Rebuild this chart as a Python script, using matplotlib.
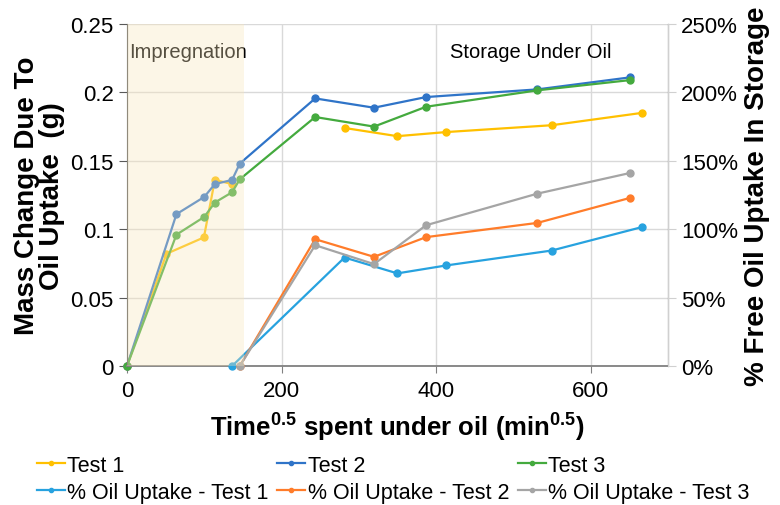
import matplotlib
matplotlib.use('Agg')
import matplotlib.pyplot as plt
import numpy as np
from matplotlib.ticker import FuncFormatter

plt.rcParams['font.family'] = ['Liberation Sans', 'DejaVu Sans']
plt.rcParams['mathtext.fontset'] = 'custom'
plt.rcParams['mathtext.rm'] = 'Liberation Sans'
plt.rcParams['mathtext.bf'] = 'Liberation Sans:bold'

# mass change (g) vs sqrt(time)
x_t1 = [0, 51, 99.5, 113.7, 136, np.nan, 281.5, 349.8, 413, 549.5, 666]
y_t1 = [0, 0.082, 0.094, 0.136, 0.133, np.nan, 0.174, 0.168, 0.171, 0.176, 0.185]
x_t2 = [0, 64, 100, 113.7, 136, 146, 243.5, 319.6, 387, 531, 651]
y_t2 = [0, 0.111, 0.1236, 0.133, 0.136, 0.148, 0.1956, 0.1888, 0.1966, 0.2022, 0.211]
x_t3 = [0, 64, 100, 113.7, 136, 146, 243.5, 319.6, 387, 531, 651]
y_t3 = [0, 0.096, 0.109, 0.1195, 0.127, 0.1365, 0.182, 0.175, 0.1895, 0.2015, 0.209]

# % free oil uptake in storage
x_p1 = [136, 281.5, 349.8, 413, 549.5, 666]
y_p1 = [0, 79.3, 67.7, 73.5, 84.4, 101.5]
x_p2 = [146, 243.5, 319.6, 387, 531, 651]
y_p2 = [0, 92.7, 79.8, 94.2, 104.6, 122.9]
x_p3 = [146, 243.5, 319.6, 387, 531, 651]
y_p3 = [0, 88.3, 74.5, 102.9, 126.0, 141.1]

fig = plt.figure(figsize=(7.8, 5.06), dpi=100)
ax = fig.add_axes([0.1628, 0.2747, 0.6936, 0.6759])
ax2 = ax.twinx()

gridc = '#D9D9D9'
ax.set_xlim(0, 700)
ax.set_ylim(0, 0.25)
ax.set_xticks([0, 200, 400, 600])
ax.set_yticks([0, 0.05, 0.1, 0.15, 0.2, 0.25])
ax.set_yticklabels(['0', '0.05', '0.1', '0.15', '0.2', '0.25'])
ax.grid(True, color=gridc, linewidth=1)
ax.set_axisbelow(True)

ax2.set_ylim(0, 250)
ax2.set_yticks([0, 50, 100, 150, 200, 250])
ax2.yaxis.set_major_formatter(FuncFormatter(lambda v, p: '%d%%' % v))

lw = 1.6
ms = 5
l1, = ax.plot(x_t1, y_t1, '-o', color='#FFC000', lw=lw, ms=ms, label='Test 1')
l2, = ax.plot(x_t2, y_t2, '-o', color='#2F74C8', lw=lw, ms=ms, label='Test 2')
l3, = ax.plot(x_t3, y_t3, '-o', color='#44AA3E', lw=lw, ms=ms, label='Test 3')
l4, = ax2.plot(x_p1, y_p1, '-o', color='#27A2DF', lw=lw, ms=ms, label='% Oil Uptake - Test 1')
l5, = ax2.plot(x_p2, y_p2, '-o', color='#FF7C2A', lw=lw, ms=ms, label='% Oil Uptake - Test 2')
l6, = ax2.plot(x_p3, y_p3, '-o', color='#A5A5A5', lw=lw, ms=ms, label='% Oil Uptake - Test 3')
for l in (l1, l2, l3, l4, l5, l6):
    l.set_clip_on(False)

# impregnation zone, drawn over the lines like the original
ax2.axvspan(0, 152, color='#F9E6BC', alpha=0.35, lw=0, zorder=5)

for a in (ax, ax2):
    a.spines['top'].set_visible(False)
ax.spines['left'].set_color('#595959')
ax.spines['bottom'].set_color('#808080')
ax.spines['bottom'].set_linewidth(1.3)
ax2.spines['right'].set_color('#D0D0D0')
ax2.spines['left'].set_visible(False)
ax2.spines['bottom'].set_visible(False)
ax.tick_params(axis='y', direction='out', length=6, color='#595959', labelsize=16)
ax.tick_params(axis='x', direction='out', length=5, color='#808080', labelsize=16, pad=5)
ax2.tick_params(axis='y', direction='out', length=6, color='#D0D0D0', labelsize=16)

ax.text(3, 0.23, 'Impregnation', fontsize=14.5, va='center', ha='left', zorder=6)
ax.text(522, 0.23, 'Storage Under Oil', fontsize=14.5, va='center', ha='center')

ax.set_xlabel(r'Time$^{\mathbf{0.5}}$ spent under oil (min$^{\mathbf{0.5}}$)',
              fontsize=18.5, fontweight='bold', labelpad=6)
ax.set_ylabel('Mass Change Due To\nOil Uptake  (g)', fontsize=20,
              fontweight='bold', linespacing=0.95, labelpad=4)
ax2.set_ylabel('% Free Oil Uptake In Storage', fontsize=20, fontweight='bold', labelpad=4)

handles = [l1, l4, l2, l5, l3, l6]
fig.legend(handles=handles, ncol=3, loc='lower left',
           bbox_to_anchor=(0.045, 0.0), frameon=False, fontsize=15.5,
           handlelength=1.3, handletextpad=0.1, columnspacing=0.4,
           labelspacing=0.28, markerscale=0.6, borderpad=0.1, borderaxespad=0)

fig.savefig('out.png', dpi=100)
